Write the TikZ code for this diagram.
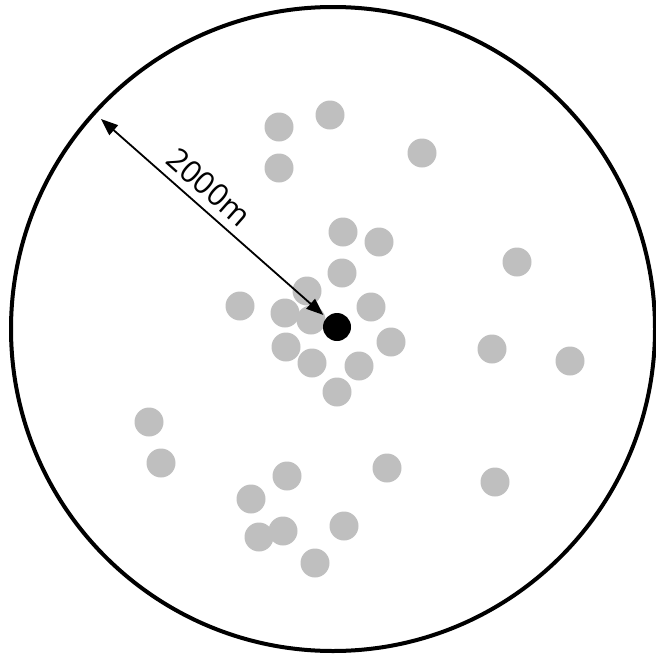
\documentclass[tikz,border=0pt]{standalone}
\usepackage{fontspec}
\setmainfont{Open Sans}
\usetikzlibrary{arrows.meta,calc}
\definecolor{fdgrey}{RGB}{191,191,191}
\definecolor{fddark}{RGB}{0,0,0}
\def\fdR{322}

\begin{document}
\begin{tikzpicture}[
    x=1pt, y=-1pt,
    fdrim/.style  = {fddark, line width=4pt},
    fdsta/.style  = {circle, fill=fdgrey, draw=none, minimum size=29pt, inner sep=0pt},
    fdhub/.style  = {circle, fill=fddark, minimum size=28pt, inner sep=0pt},
    fdarr/.style  = {{Triangle[length=17pt,width=13pt]}-{Triangle[length=17pt,width=13pt]}, line width=1.8pt},
    fdlbl/.style  = {font=\fontsize{31}{31}\selectfont, text=fddark, inner sep=2pt}]

  \useasboundingbox (0,0) rectangle (656,656);

  %% ---- range circle ----------------------------------------------
  \coordinate (ctr) at (333,329);
  \draw[fdrim] (ctr) circle[radius=\fdR];

  %% ---- stations --------------------------------------------------
  \foreach \x/\y [count=\i] in {279/127, 330/115, 279/168, 422/153,
      343/232, 379/242, 342/273, 517/262, 307/291, 240/306,
      285/313, 311/320, 371/307, 286/347, 312/363, 359/366,
      391/342, 337/392, 492/349, 570/361, 149/422, 161/463,
      287/476, 251/499, 283/531, 259/537, 344/526, 315/563,
      387/468, 495/482}
    \node[fdsta] (s\i) at (\x,\y) {};

  %% ---- centre and radius -----------------------------------------
  \node[fdhub] (hub) at (337,327) {};
  \coordinate (edge) at ($(ctr)+(-232,-210)$);
  \draw[fdarr, shorten >=4pt] (edge) -- (hub)
    node[fdlbl, pos=0.42, sloped, above=6pt] (rlab) {2000m};
\end{tikzpicture}
\end{document}
